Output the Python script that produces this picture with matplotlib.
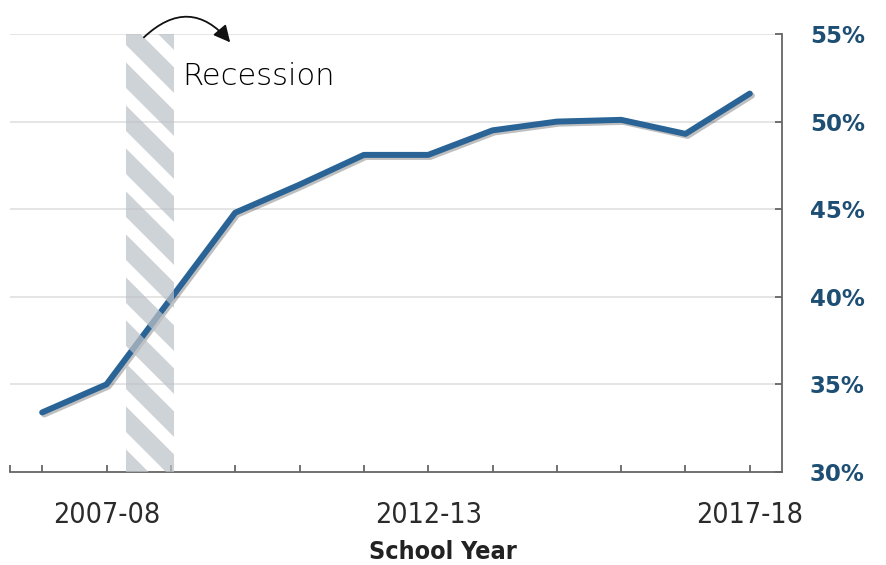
import matplotlib
matplotlib.use("Agg")
import matplotlib.pyplot as plt
import matplotlib.patheffects as pe
from matplotlib.patches import Rectangle
import numpy as np

# school years and share (%)
years = ["2006-07", "2007-08", "2008-09", "2009-10", "2010-11", "2011-12",
         "2012-13", "2013-14", "2014-15", "2015-16", "2016-17", "2017-18"]
share = [33.4, 35.0, 39.9, 44.8, 46.4, 48.1, 48.1, 49.5, 50.0, 50.1, 49.3, 51.6]
shown_labels = ["2007-08", "2012-13", "2017-18"]
yticks = [30, 35, 40, 45, 50, 55]
recession = (1.3, 2.05)  # position of the shaded band, in category units

fig = plt.figure(figsize=(8.87, 5.65), dpi=100)
ax = fig.add_axes([10 / 887, 93 / 565, 772 / 887, 438 / 565])

x = np.arange(len(years))
ax.plot(x, share, color="#2a6496", lw=4.3, solid_capstyle="round", zorder=3,
        path_effects=[pe.SimpleLineShadow(offset=(1.5, -1.5), alpha=0.25), pe.Normal()])

ax.set_xlim(-0.5, len(years) - 0.5)
ax.set_ylim(30, 55)

# grid
for v in yticks[1:]:
    ax.axhline(v, color="#e0e0e0", lw=1.2, zorder=1)

# hatched recession band (stripes drawn in pixel space, clipped to the band)
fig.canvas.draw()
band = Rectangle((recession[0], 30), recession[1] - recession[0], 25,
                 transform=ax.transData, facecolor="none", edgecolor="none")
ax.add_patch(band)
(x0, y0) = ax.transData.transform((recession[0], 30))
(x1, y1) = ax.transData.transform((recession[1], 55))
period = 43
for k in np.arange(y0 - (x1 - x0), y1 + period, period):
    ln, = ax.plot([x0 - 10, x1 + 10], [k + (x1 - x0) + 20, k], transform=None,
                  color="#bcc2c8", lw=13, alpha=0.72, zorder=4, solid_capstyle="butt")
    ln.set_clip_path(band)

# spines and ticks
for s in ["left", "top"]:
    ax.spines[s].set_visible(False)
for s in ["right", "bottom"]:
    ax.spines[s].set_color("#666666")
    ax.spines[s].set_linewidth(1.3)

ax.yaxis.tick_right()
ax.set_yticks(yticks)
ax.set_yticklabels([f"{v}%" for v in yticks])
ax.tick_params(axis="y", direction="in", length=5, width=1.3, color="#666666",
               pad=20, labelsize=16.5, labelcolor="#1d4e73")
for t in ax.get_yticklabels():
    t.set_fontweight("bold")

ax.set_xticks(x)
ax.set_xticklabels([y if y in shown_labels else "" for y in years],
                   family="DejaVu Sans", fontstretch="condensed")
ax.set_xticks([-0.5], minor=True)
ax.tick_params(axis="x", which="both", direction="in", length=5, width=1.3,
               color="#666666", pad=21, labelsize=20.5, labelcolor="#2b2b2b")
ax.set_xlabel("School Year", fontsize=18, fontweight="semibold", color="#222222",
              fontstretch="condensed")
ax.xaxis.set_label_coords(0.561, -0.155)

# annotation
ax.annotate("", xy=(2.95, 54.4), xytext=(1.55, 54.7),
            arrowprops=dict(arrowstyle="-|>,head_length=1.0,head_width=0.5",
                            connectionstyle="arc3,rad=-0.55", color="#111111", lw=1.3),
            annotation_clip=False, zorder=6)
ax.text(2.18, 52.6, "Recession", fontsize=22, family="DejaVu Sans", fontweight=200,
        color="#000000", va="center", ha="left", zorder=6)

fig.savefig("out.png", dpi=100)
